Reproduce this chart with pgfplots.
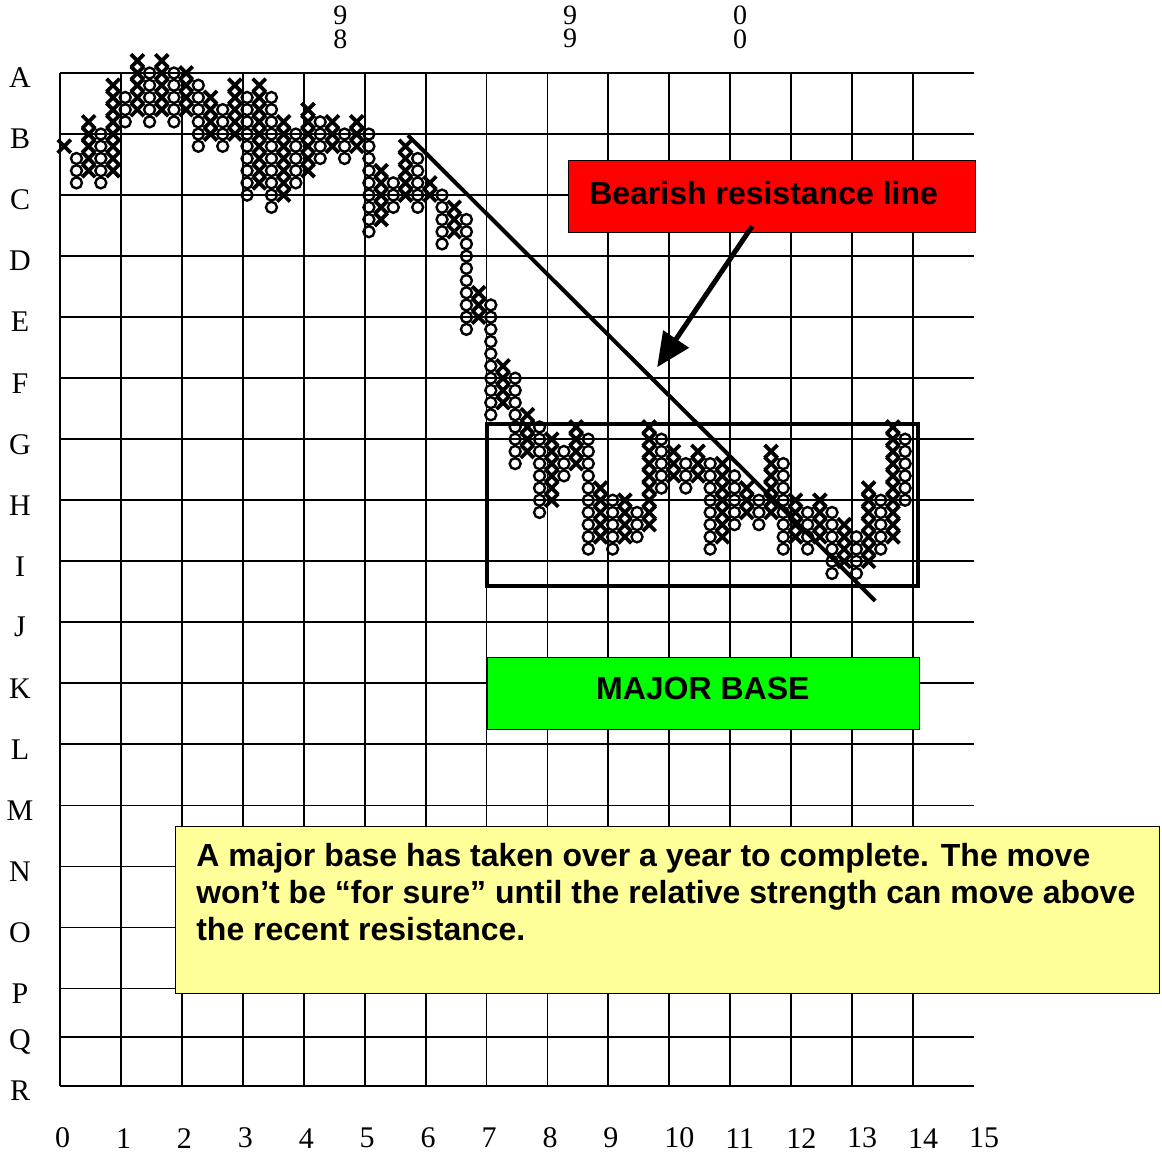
\documentclass[border=0pt]{standalone}
\usepackage{pgfplots}
\pgfplotsset{compat=1.18}
\usepackage{fontspec}
\setmainfont{Liberation Serif}
\newfontfamily\arialfont{Liberation Sans}
\usetikzlibrary{arrows.meta}
\definecolor{boxred}{RGB}{255,0,0}
\definecolor{boxgreen}{RGB}{0,255,0}
\definecolor{boxyellow}{RGB}{255,255,153}
\begin{document}
\begin{tikzpicture}
\begin{axis}[
  x=30.46pt, y=30.51pt,
  xmin=0, xmax=15, ymin=0, ymax=16.6,
  clip=false,
  axis line style={draw=none},
  xtick={0,...,14},
  extra x ticks={15},
  extra x tick style={grid=none},
  ytick={0,0.8,1.6,2.6,3.6,4.6,5.6,6.6,7.6,8.6,9.6,10.6,11.6,12.6,13.6,14.6,15.6,16.6},
  yticklabels={R,Q,P,O,N,M,L,K,J,I,H,G,F,E,D,C,B,A},
  grid=major,
  major grid style={black, line width=0.9pt},
  major tick length=0pt,
  tick label style={font=\fontsize{15}{15}\selectfont},
  /pgf/number format/assume math mode=true,
  xticklabel style={anchor=west, xshift=-6pt, yshift=-26pt},
  yticklabel style={anchor=center, xshift=-20pt, yshift=-2.5pt},
]
% O columns
\addplot[only marks, mark=o, mark size=2.75pt, line width=1.2pt, black] coordinates {
(0.27,14.8) (0.27,15.0) (0.27,15.2)
(0.67,14.8) (0.67,15.0) (0.67,15.2) (0.67,15.4) (0.67,15.6)
(1.07,15.8) (1.07,16.0) (1.07,16.2)
(1.47,15.8) (1.47,16.0) (1.47,16.2) (1.47,16.4) (1.47,16.6)
(1.87,15.8) (1.87,16.0) (1.87,16.2) (1.87,16.4) (1.87,16.6)
(2.27,15.4) (2.27,15.6) (2.27,15.8) (2.27,16.0) (2.27,16.2) (2.27,16.4)
(2.67,15.4) (2.67,15.6) (2.67,15.8) (2.67,16.0)
(3.07,14.6) (3.07,14.8) (3.07,15.0) (3.07,15.2) (3.07,15.4) (3.07,15.6) (3.07,15.8) (3.07,16.0) (3.07,16.2)
(3.47,14.4) (3.47,14.6) (3.47,14.8) (3.47,15.0) (3.47,15.2) (3.47,15.4) (3.47,15.6) (3.47,15.8) (3.47,16.0) (3.47,16.2)
(3.87,14.8) (3.87,15.0) (3.87,15.2) (3.87,15.4) (3.87,15.6)
(4.27,15.2) (4.27,15.4) (4.27,15.6) (4.27,15.8)
(4.67,15.2) (4.67,15.4) (4.67,15.6)
(5.07,14.0) (5.07,14.2) (5.07,14.4) (5.07,14.6) (5.07,14.8) (5.07,15.0) (5.07,15.2) (5.07,15.4) (5.07,15.6)
(5.47,14.4) (5.47,14.6) (5.47,14.8)
(5.87,14.4) (5.87,14.6) (5.87,14.8) (5.87,15.0) (5.87,15.2)
(6.27,13.8) (6.27,14.0) (6.27,14.2) (6.27,14.4) (6.27,14.6)
(6.67,12.4) (6.67,12.6) (6.67,12.8) (6.67,13.0) (6.67,13.2) (6.67,13.4) (6.67,13.6) (6.67,13.8) (6.67,14.0) (6.67,14.2)
(7.07,11.0) (7.07,11.2) (7.07,11.4) (7.07,11.6) (7.07,11.8) (7.07,12.0) (7.07,12.2) (7.07,12.4) (7.07,12.6) (7.07,12.8)
(7.47,10.2) (7.47,10.4) (7.47,10.6) (7.47,10.8) (7.47,11.0) (7.47,11.2) (7.47,11.4) (7.47,11.6)
(7.87,9.4) (7.87,9.6) (7.87,9.8) (7.87,10.0) (7.87,10.2) (7.87,10.4) (7.87,10.6) (7.87,10.8)
(8.27,10.0) (8.27,10.2) (8.27,10.4)
(8.67,8.8) (8.67,9.0) (8.67,9.2) (8.67,9.4) (8.67,9.6) (8.67,9.8) (8.67,10.0) (8.67,10.2) (8.67,10.4) (8.67,10.6)
(9.07,8.8) (9.07,9.0) (9.07,9.2) (9.07,9.4) (9.07,9.6)
(9.47,9.0) (9.47,9.2) (9.47,9.4)
(9.87,9.8) (9.87,10.0) (9.87,10.2) (9.87,10.4) (9.87,10.6)
(10.27,9.8) (10.27,10.0) (10.27,10.2)
(10.67,8.8) (10.67,9.0) (10.67,9.2) (10.67,9.4) (10.67,9.6) (10.67,9.8) (10.67,10.0) (10.67,10.2)
(11.07,9.2) (11.07,9.4) (11.07,9.6) (11.07,9.8) (11.07,10.0)
(11.47,9.2) (11.47,9.4) (11.47,9.6)
(11.87,8.8) (11.87,9.0) (11.87,9.2) (11.87,9.4) (11.87,9.6) (11.87,9.8) (11.87,10.0) (11.87,10.2)
(12.27,8.8) (12.27,9.0) (12.27,9.2) (12.27,9.4)
(12.67,8.4) (12.67,8.6) (12.67,8.8) (12.67,9.0) (12.67,9.2) (12.67,9.4)
(13.07,8.4) (13.07,8.6) (13.07,8.8) (13.07,9.0)
(13.47,8.8) (13.47,9.0) (13.47,9.2) (13.47,9.4) (13.47,9.6)
(13.87,9.6) (13.87,9.8) (13.87,10.0) (13.87,10.2) (13.87,10.4) (13.87,10.6)
};
% X columns
\addplot[only marks, mark=x, mark size=4.6pt, line width=1.9pt, black] coordinates {
(0.07,15.4)
(0.47,15.0) (0.47,15.2) (0.47,15.4) (0.47,15.6) (0.47,15.8)
(0.87,15.0) (0.87,15.2) (0.87,15.4) (0.87,15.6) (0.87,15.8) (0.87,16.0) (0.87,16.2) (0.87,16.4)
(1.27,16.0) (1.27,16.2) (1.27,16.4) (1.27,16.6) (1.27,16.8)
(1.67,16.0) (1.67,16.2) (1.67,16.4) (1.67,16.6) (1.67,16.8)
(2.07,16.0) (2.07,16.2) (2.07,16.4) (2.07,16.6)
(2.47,15.6) (2.47,15.8) (2.47,16.0) (2.47,16.2)
(2.87,15.6) (2.87,15.8) (2.87,16.0) (2.87,16.2) (2.87,16.4)
(3.27,14.8) (3.27,15.0) (3.27,15.2) (3.27,15.4) (3.27,15.6) (3.27,15.8) (3.27,16.0) (3.27,16.2) (3.27,16.4)
(3.67,14.6) (3.67,14.8) (3.67,15.0) (3.67,15.2) (3.67,15.4) (3.67,15.6) (3.67,15.8)
(4.07,15.0) (4.07,15.2) (4.07,15.4) (4.07,15.6) (4.07,15.8) (4.07,16.0)
(4.47,15.4) (4.47,15.6) (4.47,15.8)
(4.87,15.4) (4.87,15.6) (4.87,15.8)
(5.27,14.2) (5.27,14.4) (5.27,14.6) (5.27,14.8) (5.27,15.0)
(5.67,14.6) (5.67,14.8) (5.67,15.0) (5.67,15.2) (5.67,15.4)
(6.07,14.6) (6.07,14.8)
(6.47,14.0) (6.47,14.2) (6.47,14.4)
(6.87,12.6) (6.87,12.8) (6.87,13.0)
(7.27,11.2) (7.27,11.4) (7.27,11.6) (7.27,11.8)
(7.67,10.4) (7.67,10.6) (7.67,10.8) (7.67,11.0)
(8.07,9.6) (8.07,9.8) (8.07,10.0) (8.07,10.2) (8.07,10.4) (8.07,10.6)
(8.47,10.2) (8.47,10.4) (8.47,10.6) (8.47,10.8)
(8.87,9.0) (8.87,9.2) (8.87,9.4) (8.87,9.6) (8.87,9.8)
(9.27,9.0) (9.27,9.2) (9.27,9.4) (9.27,9.6)
(9.67,9.2) (9.67,9.4) (9.67,9.6) (9.67,9.8) (9.67,10.0) (9.67,10.2) (9.67,10.4) (9.67,10.6) (9.67,10.8)
(10.07,10.0) (10.07,10.2) (10.07,10.4)
(10.47,10.0) (10.47,10.2) (10.47,10.4)
(10.87,9.0) (10.87,9.2) (10.87,9.4) (10.87,9.6) (10.87,9.8) (10.87,10.0) (10.87,10.2)
(11.27,9.4) (11.27,9.6) (11.27,9.8)
(11.67,9.4) (11.67,9.6) (11.67,9.8) (11.67,10.0) (11.67,10.2) (11.67,10.4)
(12.07,9.0) (12.07,9.2) (12.07,9.4) (12.07,9.6)
(12.47,9.0) (12.47,9.2) (12.47,9.4) (12.47,9.6)
(12.87,8.6) (12.87,8.8) (12.87,9.0) (12.87,9.2)
(13.27,8.6) (13.27,8.8) (13.27,9.0) (13.27,9.2) (13.27,9.4) (13.27,9.6) (13.27,9.8)
(13.67,9.0) (13.67,9.2) (13.67,9.4) (13.67,9.6) (13.67,9.8) (13.67,10.0) (13.67,10.2) (13.67,10.4) (13.67,10.6) (13.67,10.8)
};
% bearish resistance line
\addplot[black, line width=2pt, no marks] coordinates {(5.71,15.58) (13.38,7.95)};
% base rectangle
\draw[black, line width=2pt] (axis cs:7.01,10.85) rectangle (axis cs:14.08,8.19);
% year labels
\node[inner sep=0pt, font=\fontsize{14}{14}\selectfont] at (axis cs:4.60,17.54) {9};
\node[inner sep=0pt, font=\fontsize{14}{14}\selectfont] at (axis cs:4.60,17.16) {8};
\node[inner sep=0pt, font=\fontsize{14}{14}\selectfont] at (axis cs:8.37,17.54) {9};
\node[inner sep=0pt, font=\fontsize{14}{14}\selectfont] at (axis cs:8.37,17.16) {9};
\node[inner sep=0pt, font=\fontsize{14}{14}\selectfont] at (axis cs:11.16,17.54) {0};
\node[inner sep=0pt, font=\fontsize{14}{14}\selectfont] at (axis cs:11.16,17.16) {0};
% red label
\draw[fill=boxred, draw=black, line width=0.5pt] (axis cs:8.34,15.16) rectangle (axis cs:15.03,13.98);
\node[anchor=west, inner sep=0pt, font=\arialfont\bfseries\fontsize{16}{18}\selectfont] at (axis cs:8.68,14.64) {Bearish resistance line};
\draw[black, line width=2.5pt, -{Triangle[length=17pt, width=15pt]}] (axis cs:11.36,14.09) -- (axis cs:9.80,11.78);
% green label
\draw[fill=boxgreen, draw=black, line width=0.5pt] (axis cs:7.01,7.03) rectangle (axis cs:14.10,5.85);
\node[inner sep=0pt, font=\arialfont\bfseries\fontsize{16}{18}\selectfont] at (axis cs:10.55,6.51) {MAJOR BASE};
% yellow note
\draw[fill=boxyellow, draw=black, line width=0.6pt] (axis cs:1.90,4.26) rectangle (axis cs:18.05,1.52);
\node[anchor=north west, align=left, inner sep=0pt, font=\arialfont\bfseries\fontsize{16}{18.5}\selectfont] at (axis cs:2.23,3.98) {A major base has taken over a year to complete. The move\\won’t be “for sure” until the relative strength can move above\\the recent resistance.};
\coordinate (bbll) at (axis cs:-0.985,-1.147);
\coordinate (bbur) at (axis cs:18.086,17.797);
\end{axis}
\pgfresetboundingbox
\path (bbll) rectangle (bbur);
\end{tikzpicture}
\end{document}
